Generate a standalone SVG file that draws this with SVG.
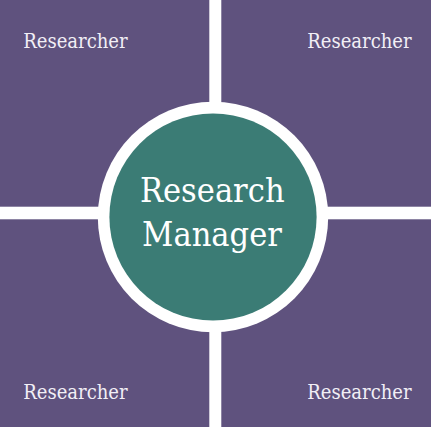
<svg xmlns="http://www.w3.org/2000/svg" width="431" height="427" viewBox="0 0 431 427">
<style>
.q{fill:#5f527e}
.lbl{font-family:"DejaVu Serif Condensed","DejaVu Serif",serif;font-stretch:condensed;fill:#f2eff6}
.small{font-size:20px}
.big{font-size:34px;fill:#ffffff}
</style>
<rect width="431" height="427" fill="#ffffff"/>
<g id="connectors"></g>
<g id="researcher-tl">
<rect class="q" x="0" y="0" width="209.3" height="206.7"/>
<text class="lbl small" x="23.3" y="48">Researcher</text>
</g>
<g id="researcher-tr">
<rect class="q" x="221.3" y="0" width="209.7" height="206.7"/>
<text class="lbl small" x="307.3" y="48">Researcher</text>
</g>
<g id="researcher-bl">
<rect class="q" x="0" y="219.3" width="209.3" height="207.7"/>
<text class="lbl small" x="23.3" y="399.3">Researcher</text>
</g>
<g id="researcher-br">
<rect class="q" x="221.3" y="219.3" width="209.7" height="207.7"/>
<text class="lbl small" x="307.3" y="399.3">Researcher</text>
</g>
<g id="manager">
<circle cx="213" cy="217" r="115.2" fill="#ffffff"/>
<circle cx="213" cy="217" r="103.6" fill="#3b7c75"/>
<text class="lbl big" x="212.3" y="201.7" text-anchor="middle">Research</text>
<text class="lbl big" x="212" y="246" text-anchor="middle">Manager</text>
</g>
</svg>
